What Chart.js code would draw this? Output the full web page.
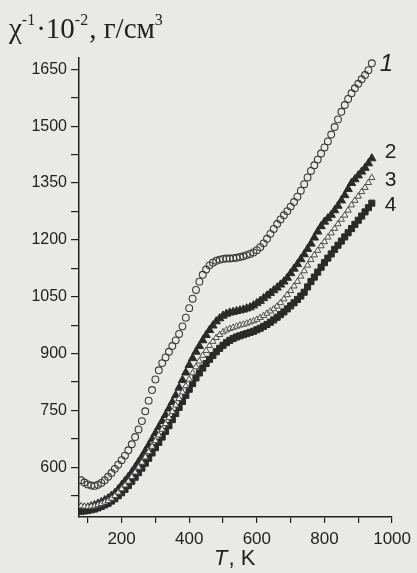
<!DOCTYPE html>
<html>
<head>
<meta charset="utf-8">
<title>chi inverse vs T</title>
<script src="https://cdn.jsdelivr.net/npm/chart.js"></script>
<style>
  html, body { margin: 0; padding: 0; background: #e9e9e7; }
  canvas { display: block; }
</style>
</head>
<body>
<canvas id="graph" width="417" height="573"></canvas>
<script>
// температура, K
const temps = [80, 90, 100, 110, 120, 130, 140, 150, 160, 170, 180, 190, 200, 210, 220, 230, 240, 250, 260, 270,
  280, 290, 300, 310, 320, 330, 340, 350, 360, 370, 380, 390, 400, 410, 420, 430, 440, 450, 460, 470,
  480, 490, 500, 510, 520, 530, 540, 550, 560, 570, 580, 590, 600, 610, 620, 630, 640, 650, 660, 670,
  680, 690, 700, 710, 720, 730, 740, 750, 760, 770, 780, 790, 800, 810, 820, 830, 840, 850, 860, 870,
  880, 890, 900, 910, 920, 930, 940];

// chi^-1 * 10^-2, г/см3
const curve1 = [566, 560, 555, 552, 551, 554, 559, 566, 575, 585, 596, 607, 619, 631, 645, 661, 680, 700, 722, 748,
  776, 804, 832, 856, 875, 890, 905, 920, 935, 952, 972, 995, 1020, 1045, 1068, 1090, 1108, 1122, 1133, 1140,
  1145, 1148, 1150, 1151, 1151, 1152, 1153, 1155, 1157, 1160, 1163, 1167, 1173, 1181, 1191, 1203, 1216, 1229, 1242, 1254,
  1265, 1276, 1288, 1300, 1314, 1330, 1347, 1365, 1382, 1397, 1412, 1428, 1444, 1460, 1478, 1498, 1518, 1538, 1556, 1572,
  1587, 1600, 1612, 1624, 1635, 1648, 1666];
const curve2 = [492, 493, 494, 497, 500, 504, 508, 513, 518, 525, 532, 542, 553, 564, 575, 587, 600, 614, 628, 643,
  658, 674, 690, 706, 722, 738, 755, 772, 790, 810, 830, 850, 870, 888, 905, 920, 935, 949, 962, 974,
  985, 993, 1000, 1005, 1008, 1010, 1012, 1014, 1016, 1019, 1022, 1027, 1033, 1039, 1046, 1053, 1060, 1067, 1074, 1082,
  1090, 1100, 1112, 1124, 1136, 1149, 1162, 1176, 1190, 1206, 1222, 1236, 1248, 1257, 1266, 1278, 1290, 1304, 1318, 1334,
  1350, 1360, 1370, 1380, 1390, 1402, 1415];
const curve3 = [498, 497, 496, 497, 498, 501, 504, 508, 512, 518, 525, 534, 543, 553, 563, 575, 587, 600, 613, 627,
  641, 655, 670, 685, 700, 715, 731, 747, 764, 781, 798, 815, 832, 849, 865, 880, 895, 908, 921, 932,
  942, 950, 957, 962, 966, 969, 972, 975, 977, 980, 983, 986, 990, 995, 1000, 1006, 1012, 1018, 1025, 1034,
  1044, 1055, 1066, 1078, 1090, 1104, 1118, 1133, 1148, 1160, 1172, 1184, 1195, 1207, 1218, 1230, 1242, 1254, 1265, 1278,
  1292, 1304, 1315, 1327, 1338, 1351, 1364];
const curve4 = [484, 485, 486, 488, 490, 493, 497, 501, 505, 511, 517, 525, 533, 542, 552, 563, 574, 586, 598, 611,
  624, 638, 652, 666, 680, 695, 710, 726, 742, 758, 774, 790, 806, 821, 836, 849, 862, 874, 885, 895,
  905, 914, 922, 929, 935, 940, 944, 947, 950, 953, 956, 959, 963, 967, 972, 977, 983, 989, 996, 1003,
  1010, 1018, 1026, 1034, 1043, 1052, 1062, 1076, 1090, 1102, 1115, 1128, 1140, 1152, 1163, 1175, 1186, 1197, 1208, 1219,
  1230, 1241, 1252, 1263, 1274, 1285, 1297];

const yTicks = [525, 600, 675, 750, 825, 900, 975, 1050, 1125, 1200, 1275, 1350, 1425, 1500, 1575, 1650];
const xTicks = [100, 200, 300, 400, 500, 600, 700, 800, 900, 1000];
const curveNames = ['1', '2', '3', '4'];

function pts(arr) {
  return temps.map((t, i) => ({ x: t, y: arr[i] }));
}

const ink = '#222222';

// подписи: заголовок оси, T, K и номера кривых
const textPlugin = {
  id: 'texts',
  afterDraw(chart) {
    const ctx = chart.ctx;
    ctx.save();
    ctx.fillStyle = ink;
    ctx.textBaseline = 'alphabetic';

    // χ^-1·10^-2, г/см^3
    const parts = [
      ['χ', 29, 0], ['-1', 16, -13], ['·10', 29, 0], ['-2', 16, -13], [', г/см', 29, 0], ['3', 16, -13]
    ];
    let x = 9;
    const base = 38;
    for (const [t, size, dy] of parts) {
      ctx.font = size + 'px "Liberation Serif", serif';
      ctx.fillText(t, x, base + dy);
      x += ctx.measureText(t).width + (dy ? 1 : 0);
    }

    // T, K
    ctx.font = 'italic 22px "Liberation Sans", Arial, sans-serif';
    ctx.fillText('T', 214, 565);
    const wT = ctx.measureText('T').width;
    ctx.font = '22px "Liberation Sans", Arial, sans-serif';
    ctx.fillText(', K', 214 + wT + 1, 565);

    // номера кривых
    const xs = chart.scales.x, ys = chart.scales.y;
    const ends = [curve1, curve2, curve3, curve4];
    const dxs = [8, 13, 13, 13];
    const dys = [8, 0, 8, 8];
    ends.forEach((arr, i) => {
      const px = xs.getPixelForValue(temps[temps.length - 1]) + dxs[i];
      const py = ys.getPixelForValue(arr[arr.length - 1]) + dys[i];
      ctx.font = (i === 0 ? 'italic 24px ' : '21px ') + '"Liberation Sans", Arial, sans-serif';
      ctx.fillText(curveNames[i], px, py);
    });
    ctx.restore();
  }
};

new Chart(document.getElementById('graph'), {
  type: 'scatter',
  data: {
    datasets: [
      { label: '1', data: pts(curve1), pointStyle: 'circle', pointRadius: 3.4, borderWidth: 1.1,
        borderColor: '#3a3a3a', backgroundColor: 'rgba(0,0,0,0)', order: 0 },
      { label: '3', data: pts(curve3), pointStyle: 'triangle', pointRadius: 3.6, borderWidth: 1,
        borderColor: '#4a4a4a', backgroundColor: '#f0f0ee', order: 1 },
      { label: '2', data: pts(curve2), pointStyle: 'triangle', pointRadius: 4.8, borderWidth: 1,
        borderColor: '#2a2a2a', backgroundColor: '#2a2a2a', order: 2 },
      { label: '4', data: pts(curve4), pointStyle: 'rect', pointRadius: 4.3, borderWidth: 1,
        borderColor: '#2a2a2a', backgroundColor: '#2a2a2a', order: 3 }
    ]
  },
  options: {
    responsive: false,
    animation: false,
    devicePixelRatio: 1,
    layout: { padding: { top: 58, right: 20, bottom: 0, left: 0 } },
    plugins: { legend: { display: false }, tooltip: { enabled: false } },
    scales: {
      x: {
        type: 'linear',
        min: 74,
        max: 1000,
        afterBuildTicks: s => { s.ticks = xTicks.map(v => ({ value: v })); },
        afterFit: s => { s.height = 56; },
        border: { color: ink, width: 1.5 },
        grid: { drawOnChartArea: false, color: ink, lineWidth: 1.2, tickLength: 6 },
        ticks: {
          autoSkip: false, maxRotation: 0, padding: 6, color: ink,
          font: { family: '"Liberation Sans", Arial, sans-serif', size: 17 },
          callback: v => (v % 200 === 0 ? v : '')
        }
      },
      y: {
        type: 'linear',
        min: 469,
        max: 1680,
        afterBuildTicks: s => { s.ticks = yTicks.map(v => ({ value: v })); },
        afterFit: s => { s.width = 79; },
        border: { color: ink, width: 1.5 },
        grid: { drawOnChartArea: false, color: ink, lineWidth: 1.2, tickLength: 8 },
        ticks: {
          autoSkip: false, padding: 4, color: ink,
          font: { family: '"Liberation Sans", Arial, sans-serif', size: 16 },
          callback: v => (v % 150 === 0 ? v : '')
        }
      }
    }
  },
  plugins: [textPlugin]
});
</script>
</body>
</html>
